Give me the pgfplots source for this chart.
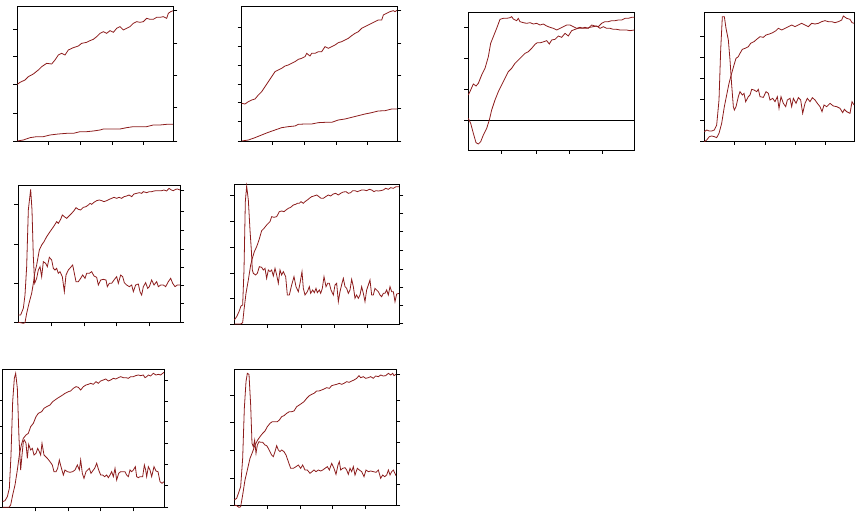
\documentclass[border=0pt]{standalone}
\usepackage{pgfplots}
\pgfplotsset{compat=1.18}
\definecolor{dred}{RGB}{140,28,28}

% every panel is set in the pixel units of the picture, y downward
\pgfplotsset{
  panel/.style={scale only axis, clip=false, anchor=south west,
    y dir=reverse, tick align=outside, major tick length=4pt,
    xtick pos=bottom, ytick pos=left, xticklabels={}, yticklabels={},
    axis line style={line width=0.8pt},
    every tick/.style={black, line width=0.8pt}},
  rightax/.style={scale only axis, anchor=south west, y dir=reverse,
    hide x axis, axis y line*=right, tick align=outside,
    major tick length=4pt, yticklabels={},
    axis line style={line width=0.8pt},
    every tick/.style={black, line width=0.8pt}},
  cur/.style={dred, line width=0.8pt, mark=none},
}

\begin{document}
\begin{tikzpicture}
\useasboundingbox (0pt,0pt) rectangle (866pt,516pt);

% ---------- row 1, panel 1
\begin{axis}[panel, at={(17.33pt,375pt)}, width=156pt, height=134.33pt,
  xmin=52, xmax=520, ymin=20, ymax=423,
  xtick={145,240,338,430}, ytick={88,170,253,340,423}]
\addplot[cur] coordinates {(52,253)(60,247)(75,240)(85,230)(100,222)(115,210)(125,200)(140,190)(155,192)(165,180)(175,165)(185,160)(195,165)(205,150)(220,143)(235,138)(245,130)(260,127)(270,122)(280,118)(290,110)(300,100)(310,95)(320,100)(330,92)(340,97)(350,85)(360,80)(370,90)(380,85)(390,80)(400,70)(410,65)(420,67)(430,65)(440,55)(450,58)(460,58)(470,52)(480,52)(490,50)(500,55)(505,40)(512,35)(520,32)};
\addplot[cur] coordinates {(52,423)(70,420)(90,413)(110,410)(130,410)(150,405)(175,402)(200,400)(220,400)(240,395)(260,395)(280,393)(300,390)(310,387)(340,387)(360,387)(380,383)(400,380)(420,380)(440,380)(460,375)(480,375)(500,373)(520,373)};
\end{axis}
\begin{axis}[rightax, at={(17.33pt,375pt)}, width=156pt, height=134.33pt,
  xmin=52, xmax=520, ymin=20, ymax=423, ytick={30,130,225,323,423}]
\end{axis}

% ---------- row 1, panel 2
\begin{axis}[panel, at={(241.67pt,375pt)}, width=155.67pt, height=134.33pt,
  xmin=50, xmax=517, ymin=20, ymax=423,
  xtick={143,238,333,428}, ytick={83,140,195,253,308,365,423}]
\addplot[cur] coordinates {(50,310)(60,312)(70,305)(80,300)(90,297)(100,285)(110,275)(120,260)(130,245)(140,230)(150,215)(160,210)(170,205)(180,198)(190,195)(200,190)(210,185)(220,178)(230,175)(240,170)(245,160)(255,168)(260,160)(270,160)(280,155)(290,155)(300,140)(310,145)(320,140)(330,135)(340,128)(350,125)(360,120)(370,115)(380,107)(390,100)(400,95)(410,85)(420,80)(430,75)(440,70)(450,65)(460,60)(470,60)(475,45)(485,40)(495,35)(505,32)(510,35)(517,30)};
\addplot[cur] coordinates {(50,423)(70,420)(90,413)(110,405)(130,397)(150,390)(170,383)(190,380)(210,378)(220,373)(240,372)(260,372)(280,368)(300,367)(320,367)(340,360)(360,357)(380,352)(400,347)(420,342)(440,338)(460,333)(480,332)(500,327)(517,327)};
\end{axis}
\begin{axis}[rightax, at={(241.67pt,375pt)}, width=155.67pt, height=134.33pt,
  xmin=50, xmax=517, ymin=20, ymax=423, ytick={32,130,226,325,423}]
\end{axis}

% ---------- row 1, panel 3
\begin{axis}[panel, at={(468.33pt,366pt)}, width=166pt, height=137.33pt,
  xmin=55, xmax=553, ymin=38, ymax=450,
  xtick={155,258,358,458}, ytick={82,175,268,360}]
\addplot[black, line width=0.8pt] coordinates {(55,360)(553,360)};
\addplot[cur] coordinates {(55,285)(62,270)(70,252)(78,258)(85,250)(95,225)(105,205)(115,170)(122,130)(130,110)(140,85)(150,58)(160,55)(170,55)(180,53)(185,50)(190,57)(200,62)(205,55)(210,65)(220,68)(230,70)(240,68)(250,72)(260,70)(270,75)(280,72)(290,78)(300,82)(310,85)(320,90)(330,85)(340,80)(350,75)(360,75)(370,80)(380,85)(390,82)(400,85)(410,85)(420,82)(430,80)(440,78)(450,85)(460,80)(470,85)(480,85)(490,88)(500,88)(510,90)(520,90)(530,90)(540,92)(553,90)};
\addplot[cur] coordinates {(55,355)(62,370)(70,400)(78,428)(85,432)(92,425)(100,405)(110,385)(118,360)(125,330)(135,300)(145,275)(155,255)(165,235)(175,215)(185,205)(195,190)(205,180)(215,170)(225,160)(235,155)(245,145)(255,133)(262,128)(272,128)(282,125)(290,122)(298,132)(305,120)(315,118)(325,108)(335,112)(345,100)(355,108)(365,92)(375,88)(385,85)(395,85)(405,82)(415,85)(425,75)(435,78)(445,80)(455,70)(465,65)(475,65)(485,62)(495,62)(505,60)(515,60)(525,55)(535,55)(545,52)(553,52)};
\end{axis}

% ---------- row 1, panel 4
\begin{axis}[panel, at={(704.33pt,375pt)}, width=149.67pt, height=128.33pt,
  xmin=73, xmax=522, ymin=38, ymax=423,
  xtick={163,256,346,436}, ytick={108,172,235,298,360,423}]
\addplot[cur] coordinates {(73,395)(80,390)(88,393)(95,393)(103,390)(110,375)(117,300)(122,150)(127,50)(133,50)(138,85)(145,120)(150,180)(155,255)(160,320)(163,330)(168,320)(175,290)(180,275)(187,285)(192,280)(197,305)(205,290)(210,285)(215,268)(222,270)(230,275)(235,268)(240,290)(250,292)(258,275)(265,280)(270,300)(278,295)(285,305)(292,290)(297,325)(303,290)(310,310)(317,320)(322,300)(330,295)(335,320)(340,295)(348,310)(355,293)(362,300)(368,340)(375,310)(382,295)(390,305)(397,293)(405,300)(412,310)(420,320)(426,335)(432,315)(440,320)(450,310)(460,318)(470,320)(480,325)(488,338)(493,328)(500,335)(510,340)(516,305)(522,315)};
\addplot[cur] coordinates {(73,425)(80,420)(88,410)(95,408)(103,410)(110,413)(117,400)(125,370)(133,320)(140,285)(147,250)(155,220)(162,195)(168,175)(175,170)(180,160)(187,148)(195,145)(205,140)(212,130)(222,125)(230,118)(240,110)(250,112)(258,105)(268,102)(278,98)(288,92)(295,85)(305,90)(315,85)(325,80)(335,75)(345,80)(355,75)(365,70)(375,75)(385,80)(395,70)(405,72)(415,70)(425,65)(435,62)(445,65)(455,65)(465,68)(475,65)(485,60)(490,48)(500,55)(510,58)(516,68)(522,70)};
\end{axis}

% ---------- row 2, panel 5
\begin{axis}[panel, at={(18.33pt,193.67pt)}, width=161.67pt, height=137.33pt,
  xmin=55, xmax=540, ymin=45, ymax=457,
  xtick={155,253,350,447}, ytick={103,223,340,457}]
\addplot[cur] coordinates {(55,435)(62,435)(70,415)(75,375)(80,290)(85,120)(92,58)(96,120)(100,260)(104,340)(110,325)(115,300)(120,290)(125,320)(130,275)(137,280)(142,290)(148,262)(155,270)(160,295)(165,300)(170,295)(175,310)(180,305)(187,320)(193,365)(198,315)(205,300)(212,292)(218,285)(222,305)(228,335)(235,335)(242,325)(248,315)(255,325)(260,310)(268,310)(275,305)(282,318)(290,322)(295,345)(302,330)(310,328)(318,330)(322,350)(328,340)(335,340)(342,330)(350,320)(355,340)(362,315)(368,320)(373,338)(380,345)(388,350)(395,345)(400,365)(407,345)(415,342)(420,365)(425,375)(430,350)(437,338)(443,355)(448,350)(455,330)(462,345)(470,335)(475,350)(482,345)(490,345)(497,350)(505,335)(512,325)(518,340)(525,350)(532,345)(540,345)};
\addplot[cur] coordinates {(55,457)(62,458)(70,460)(75,458)(80,430)(87,400)(95,370)(100,340)(105,305)(110,285)(118,240)(125,225)(132,215)(140,200)(148,188)(155,178)(162,168)(170,155)(175,160)(182,148)(187,135)(193,140)(200,145)(207,138)(215,130)(222,122)(228,113)(235,118)(242,120)(250,112)(258,110)(265,105)(270,100)(275,103)(282,97)(290,92)(298,90)(305,92)(312,95)(320,92)(328,88)(335,85)(342,82)(350,85)(357,82)(365,85)(372,80)(380,78)(387,75)(395,80)(402,72)(410,70)(418,68)(425,70)(430,65)(440,68)(448,65)(455,65)(462,63)(470,62)(478,62)(485,62)(492,60)(500,63)(507,55)(514,60)(520,62)(527,58)(532,57)(540,60)};
\end{axis}
\begin{axis}[rightax, at={(18.33pt,193.67pt)}, width=161.67pt, height=137.33pt,
  xmin=55, xmax=540, ymin=45, ymax=457, ytick={60,125,180,237,293,345,400,457}]
\end{axis}

% ---------- row 2, panel 6
\begin{axis}[panel, at={(234.33pt,192pt)}, width=165pt, height=140pt,
  xmin=43, xmax=538, ymin=42, ymax=462,
  xtick={143,243,343,443}, ytick={75,155,232,310,385,462}]
\addplot[cur] coordinates {(43,450)(50,440)(57,425)(63,408)(68,405)(72,300)(76,95)(80,48)(85,90)(90,180)(94,240)(97,300)(100,310)(107,315)(112,310)(118,290)(125,292)(130,300)(135,295)(140,325)(145,300)(150,305)(155,300)(160,318)(165,295)(170,315)(175,340)(180,300)(185,315)(190,305)(197,320)(202,375)(208,375)(215,345)(222,320)(228,350)(235,365)(240,340)(246,305)(250,355)(255,375)(262,365)(268,350)(272,370)(278,360)(283,368)(288,355)(292,368)(298,360)(302,370)(307,355)(312,320)(318,350)(323,340)(328,340)(333,360)(340,375)(345,345)(350,340)(355,395)(360,365)(366,340)(370,325)(375,350)(380,355)(385,370)(390,360)(395,328)(400,350)(405,385)(410,375)(415,385)(420,375)(425,350)(430,370)(435,395)(440,360)(445,345)(450,330)(455,375)(460,375)(465,355)(470,360)(475,365)(480,375)(485,380)(490,370)(495,370)(500,360)(505,375)(510,350)(515,365)(520,365)(525,395)(530,372)(538,370)};
\addplot[cur] coordinates {(43,462)(55,462)(62,462)(68,458)(72,420)(78,370)(85,330)(92,285)(97,265)(103,245)(110,230)(117,210)(125,182)(132,175)(140,165)(145,160)(150,155)(155,140)(162,142)(170,140)(178,125)(185,123)(192,125)(198,120)(205,115)(212,112)(220,105)(227,103)(232,100)(238,100)(243,95)(250,100)(255,95)(262,90)(268,85)(275,80)(282,78)(290,75)(297,80)(303,85)(310,85)(317,80)(325,75)(332,78)(340,72)(347,70)(355,75)(362,70)(370,66)(378,65)(385,70)(392,68)(398,62)(405,62)(412,65)(420,62)(425,60)(432,60)(440,62)(448,58)(455,60)(462,65)(468,62)(475,63)(482,62)(490,60)(497,55)(505,58)(512,53)(520,55)(528,50)(538,50)};
\end{axis}
\begin{axis}[rightax, at={(234.33pt,192pt)}, width=165pt, height=140pt,
  xmin=43, xmax=538, ymin=42, ymax=462, ytick={75,130,185,242,297,352,407,460}]
\end{axis}

% ---------- row 3, panel 7
\begin{axis}[panel, at={(2.67pt,8.67pt)}, width=161.33pt, height=138.33pt,
  xmin=8, xmax=492, ymin=42, ymax=457,
  xtick={107,205,302,400}, ytick={135,213,295,377,457}]
\addplot[cur] coordinates {(8,440)(15,437)(22,425)(28,400)(33,300)(38,140)(43,70)(47,55)(52,100)(57,250)(62,345)(66,300)(70,260)(73,255)(78,265)(82,310)(86,268)(92,285)(97,280)(102,300)(108,295)(113,280)(118,290)(122,300)(126,265)(132,300)(137,305)(142,310)(150,320)(157,330)(162,350)(168,350)(173,340)(178,315)(183,335)(190,360)(195,345)(202,350)(210,352)(218,350)(225,345)(232,330)(238,345)(242,315)(247,355)(252,370)(258,350)(263,345)(268,340)(273,355)(278,348)(284,340)(290,325)(296,345)(302,360)(308,360)(314,365)(320,360)(325,368)(330,360)(335,350)(340,365)(345,340)(350,375)(356,355)(362,350)(368,350)(375,350)(380,360)(385,365)(390,345)(395,350)(400,345)(406,335)(410,365)(415,368)(420,365)(428,365)(433,330)(437,345)(440,365)(445,335)(450,345)(455,365)(462,335)(468,348)(474,350)(480,380)(486,385)(492,380)};
\addplot[cur] coordinates {(8,457)(20,457)(27,457)(32,450)(38,420)(45,390)(52,345)(58,300)(64,270)(70,250)(78,240)(85,235)(92,215)(100,205)(108,185)(115,175)(125,170)(132,160)(140,155)(150,150)(158,140)(165,135)(172,130)(180,125)(188,120)(195,115)(205,110)(212,108)(220,100)(228,95)(235,97)(242,105)(250,95)(258,90)(265,88)(272,85)(280,88)(288,80)(295,85)(302,78)(310,75)(317,72)(325,78)(332,75)(340,70)(347,72)(355,68)(362,65)(370,68)(378,68)(385,70)(392,65)(400,65)(407,62)(415,60)(422,62)(430,60)(435,68)(440,65)(445,60)(452,63)(460,55)(468,60)(475,58)(482,60)(488,55)(492,52)};
\end{axis}
\begin{axis}[rightax, at={(2.67pt,8.67pt)}, width=161.33pt, height=138.33pt,
  xmin=8, xmax=492, ymin=42, ymax=457, ytick={75,138,200,265,327,390,457}]
\end{axis}

% ---------- row 3, panel 8
\begin{axis}[panel, at={(234.33pt,11pt)}, width=161.67pt, height=136pt,
  xmin=43, xmax=528, ymin=42, ymax=450,
  xtick={143,240,338,435}, ytick={120,203,285,370,450}]
\addplot[cur] coordinates {(43,435)(50,430)(57,410)(62,395)(68,310)(73,160)(78,80)(82,55)(87,58)(92,150)(96,265)(100,275)(104,255)(108,295)(112,270)(117,260)(122,262)(128,262)(135,270)(140,272)(145,280)(150,290)(155,300)(160,305)(165,290)(170,272)(175,285)(180,290)(185,285)(192,290)(198,300)(205,320)(212,340)(220,340)(228,335)(235,330)(242,340)(248,330)(255,345)(262,345)(270,355)(276,350)(282,345)(288,350)(295,345)(302,348)(308,345)(315,340)(322,335)(328,345)(335,325)(342,340)(348,358)(354,330)(358,320)(362,345)(368,340)(375,338)(380,345)(385,358)(390,340)(395,350)(400,335)(405,360)(412,340)(418,345)(425,350)(432,365)(438,345)(445,350)(452,348)(460,350)(468,352)(475,345)(482,370)(488,360)(494,365)(500,360)(505,345)(510,360)(515,350)(520,345)(528,362)};
\addplot[cur] coordinates {(43,450)(50,452)(57,457)(62,455)(68,420)(75,375)(82,345)(90,310)(98,290)(105,270)(113,255)(120,245)(128,235)(135,228)(142,215)(150,205)(157,200)(165,200)(172,200)(178,195)(185,185)(192,182)(200,175)(208,170)(215,170)(222,168)(230,155)(238,150)(245,145)(252,140)(260,130)(268,122)(275,118)(282,115)(290,108)(297,108)(305,105)(312,102)(320,98)(328,100)(335,92)(342,90)(350,88)(358,85)(365,88)(372,85)(380,80)(387,82)(395,78)(402,75)(410,70)(417,62)(422,68)(430,65)(437,70)(445,68)(452,65)(460,70)(467,63)(475,65)(482,60)(490,63)(497,62)(505,55)(512,60)(518,55)(522,62)(528,58)};
\end{axis}
\begin{axis}[rightax, at={(234.33pt,11pt)}, width=161.67pt, height=136pt,
  xmin=43, xmax=528, ymin=42, ymax=450, ytick={58,135,198,262,325,388,450}]
\end{axis}

\end{tikzpicture}
\end{document}
